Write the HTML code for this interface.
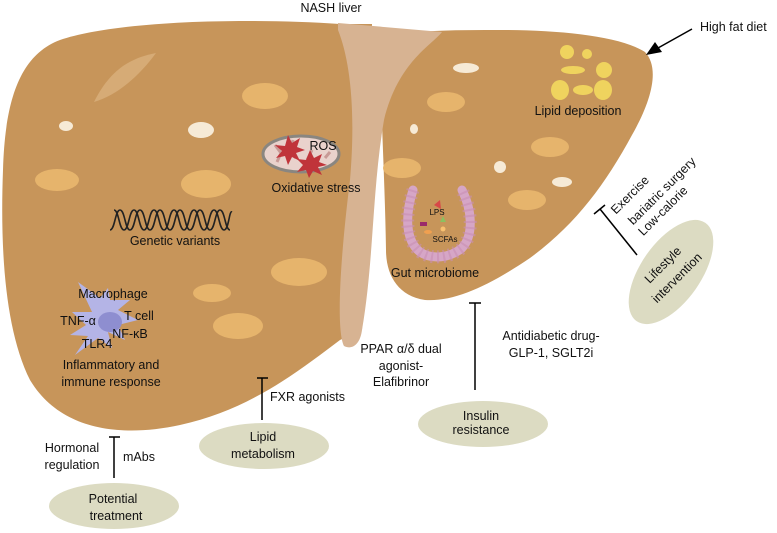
<!DOCTYPE html>
<html><head><meta charset="utf-8"><style>
html,body{margin:0;padding:0;background:#fff;}
svg{display:block;}
text{font-family:"Liberation Sans","DejaVu Sans",sans-serif;font-size:12.5px;fill:#111;}
</style></head><body>
<svg width="777" height="533" viewBox="0 0 777 533" xmlns="http://www.w3.org/2000/svg">
<path d="M340,24 C250,18 120,20 60,40 C20,55 5,100 3,170 C0,250 5,330 30,380 C60,430 120,438 180,425 C250,410 300,370 340,340 L362,330 L372,24 Z" fill="#c7955a"/>
<path d="M380,36 C420,30 460,30 500,30 C560,30 620,36 645,52 C660,68 652,100 632,135 C605,185 575,225 530,258 C490,285 455,302 425,300 C398,296 386,275 386,250 C385,180 380,100 380,36 Z" fill="#c7955a"/>
<path d="M338,23 L442,32 C432,45 398,62 384,120 C372,190 374,260 362,330 C360,345 352,350 344,346 C336,330 340,260 350,180 C356,110 350,60 338,30 Z" fill="#d7b392"/>
<g fill="#e6b46c">
<ellipse cx="265" cy="96" rx="23" ry="13"/>
<ellipse cx="57" cy="180" rx="22" ry="11"/>
<ellipse cx="206" cy="184" rx="25" ry="14"/>
<ellipse cx="299" cy="272" rx="28" ry="14"/>
<ellipse cx="212" cy="293" rx="19" ry="9"/>
<ellipse cx="238" cy="326" rx="25" ry="13"/>
<ellipse cx="446" cy="102" rx="19" ry="10"/>
<ellipse cx="402" cy="168" rx="19" ry="10"/>
<ellipse cx="550" cy="147" rx="19" ry="10"/>
<ellipse cx="527" cy="200" rx="19" ry="10"/>
</g>
<path d="M94,102 C110,70 130,58 156,53 C140,75 118,95 94,102 Z" fill="#d6ab76"/>
<g fill="#f6ead6">
<ellipse cx="66" cy="126" rx="7" ry="5"/>
<ellipse cx="201" cy="130" rx="13" ry="8"/>
<ellipse cx="466" cy="68" rx="13" ry="5"/>
<ellipse cx="414" cy="129" rx="4" ry="5"/>
<ellipse cx="500" cy="167" rx="6" ry="6"/>
<ellipse cx="562" cy="182" rx="10" ry="5"/>
</g>
<g fill="#efd35e">
<ellipse cx="567" cy="52" rx="7" ry="7"/>
<ellipse cx="587" cy="54" rx="5" ry="5"/>
<ellipse cx="573" cy="70" rx="12" ry="4"/>
<ellipse cx="604" cy="70" rx="8" ry="8"/>
<ellipse cx="560" cy="90" rx="9" ry="10"/>
<ellipse cx="583" cy="90" rx="10" ry="5"/>
<ellipse cx="603" cy="90" rx="9" ry="10"/>
</g>
<text x="578" y="115" text-anchor="middle">Lipid deposition</text>
<ellipse cx="301" cy="154" rx="38" ry="18" fill="#e9d2cc" stroke="#8a8680" stroke-width="3"/>
<path d="M275,145 l6,8 l-4,9 M293,140 l-3,12 l6,6 M312,150 l-5,10 M325,158 l5,-6" stroke="#c89a96" stroke-width="3" fill="none"/>
<polygon points="288,135 292,143 300,138 297,147 305,150 296,153 300,161 292,157 288,165 285,156 276,158 282,151 275,145 285,146" fill="#c0343a"/>
<polygon points="310,150 314,158 322,154 319,162 327,165 318,167 322,175 313,171 309,178 306,170 297,172 303,165 297,159 306,160" fill="#c0343a"/>
<text x="323" y="150" text-anchor="middle">ROS</text>
<text x="316" y="192" text-anchor="middle">Oxidative stress</text>
<!-- DNA -->
<path d="M110,230 C115,230 115,210 120,210 C125,210 125,230 130,230 C135,230 135,210 140,210 C145,210 145,230 150,230 C155,230 155,210 160,210 C165,210 165,230 170,230 C175,230 175,210 180,210 C185,210 185,230 190,230 C195,230 195,210 200,210 C205,210 205,230 210,230 C215,230 215,210 220,210 C225,210 225,230 230,230" fill="none" stroke="#222" stroke-width="1.6"/>
<path d="M114,210 C119,210 119,230 124,230 C129,230 129,210 134,210 C139,210 139,230 144,230 C149,230 149,210 154,210 C159,210 159,230 164,230 C169,230 169,210 174,210 C179,210 179,230 184,230 C189,230 189,210 194,210 C199,210 199,230 204,230 C209,230 209,210 214,210 C219,210 219,230 224,230 C229,230 229,210 232,212" fill="none" stroke="#222" stroke-width="1.6"/>
<text x="175" y="245" text-anchor="middle">Genetic variants</text>
<path d="M413,190 C405,215 405,240 420,252 C432,260 450,258 462,248 C474,235 472,210 462,190" fill="none" stroke="#d6a6c6" stroke-width="9" stroke-linecap="round"/>
<path d="M413,190 C405,215 405,240 420,252 C432,260 450,258 462,248 C474,235 472,210 462,190" fill="none" stroke="#c890b4" stroke-width="13" stroke-dasharray="2 4" stroke-opacity="0.6"/>
<polygon points="434,205 440,200 441,209" fill="#d84848"/>
<rect x="420" y="222" width="7" height="4" fill="#9a2a6a"/>
<polygon points="440,222 443,216 446,222" fill="#8cc060"/>
<ellipse cx="428" cy="232" rx="4" ry="2" fill="#f0a050"/>
<circle cx="443" cy="229" r="2.5" fill="#f8c070"/>
<text x="437" y="215" text-anchor="middle" style="font-size:8px">LPS</text>
<text x="445" y="242" text-anchor="middle" style="font-size:8px">SCFAs</text>
<text x="435" y="277" text-anchor="middle">Gut microbiome</text>
<polygon points="78,282 100,298 108,288 110,300 130,300 118,310 138,320 118,325 125,340 108,332 112,348 98,338 75,355 88,336 70,335 86,325 72,312 92,312" fill="#b4b4e6"/>
<ellipse cx="110" cy="322" rx="12" ry="10" fill="#8e8ed0"/>
<text x="113" y="298" text-anchor="middle">Macrophage</text>
<text x="139" y="320" text-anchor="middle">T cell</text>
<text x="78" y="325" text-anchor="middle">TNF-α</text>
<text x="130" y="338" text-anchor="middle">NF-κB</text>
<text x="97" y="348" text-anchor="middle">TLR4</text>
<text x="111" y="369" text-anchor="middle">Inflammatory and</text>
<text x="111" y="386" text-anchor="middle">immune response</text>
<text x="331" y="12" text-anchor="middle">NASH liver</text>
<text x="700" y="31">High fat diet</text>
<line x1="692" y1="29" x2="658" y2="48" stroke="#000" stroke-width="1.5"/>
<polygon points="646,55 655,42 662,52" fill="#000"/>
<text x="401" y="353" text-anchor="middle">PPAR α/δ dual</text>
<text x="401" y="370" text-anchor="middle">agonist-</text>
<text x="401" y="386" text-anchor="middle">Elafibrinor</text>
<g stroke="#000" stroke-width="1.5">
<line x1="262" y1="378" x2="262" y2="420"/><line x1="257" y1="378" x2="268" y2="378"/>
<line x1="475" y1="303" x2="475" y2="390"/><line x1="469" y1="303" x2="481" y2="303"/>
<line x1="114" y1="437" x2="114" y2="478"/><line x1="109" y1="437" x2="120" y2="437"/>
<line x1="600" y1="209" x2="637" y2="255"/><line x1="594" y1="214" x2="605" y2="205"/>
</g>
<text x="270" y="401">FXR agonists</text>
<ellipse cx="264" cy="446" rx="65" ry="23" fill="#dcdbc2"/>
<text x="263" y="441" text-anchor="middle">Lipid</text>
<text x="263" y="458" text-anchor="middle">metabolism</text>
<text x="551" y="340" text-anchor="middle">Antidiabetic drug-</text>
<text x="551" y="357" text-anchor="middle">GLP-1, SGLT2i</text>
<ellipse cx="483" cy="424" rx="65" ry="23" fill="#dcdbc2"/>
<text x="481" y="420" text-anchor="middle">Insulin</text>
<text x="481" y="434" text-anchor="middle">resistance</text>
<text x="72" y="452" text-anchor="middle">Hormonal</text>
<text x="72" y="469" text-anchor="middle">regulation</text>
<text x="123" y="461">mAbs</text>
<ellipse cx="114" cy="506" rx="65" ry="23" fill="#dcdbc2"/>
<text x="113" y="503" text-anchor="middle">Potential</text>
<text x="116" y="520" text-anchor="middle">treatment</text>
<ellipse cx="671" cy="272" rx="60" ry="30" transform="rotate(-55 671 272)" fill="#dcdbc2"/>
<text x="663" y="269" text-anchor="middle" transform="rotate(-45 663 265)">Lifestyle</text>
<text x="677" y="282" text-anchor="middle" transform="rotate(-45 677 278)">intervention</text>
<text x="630" y="199" text-anchor="middle" transform="rotate(-45 630 195)">Exercise</text>
<text x="662" y="195" text-anchor="middle" transform="rotate(-45 662 191)">bariatric surgery</text>
<text x="663" y="215" text-anchor="middle" transform="rotate(-45 663 211)">Low-calorie</text>
</svg>
</body></html>
